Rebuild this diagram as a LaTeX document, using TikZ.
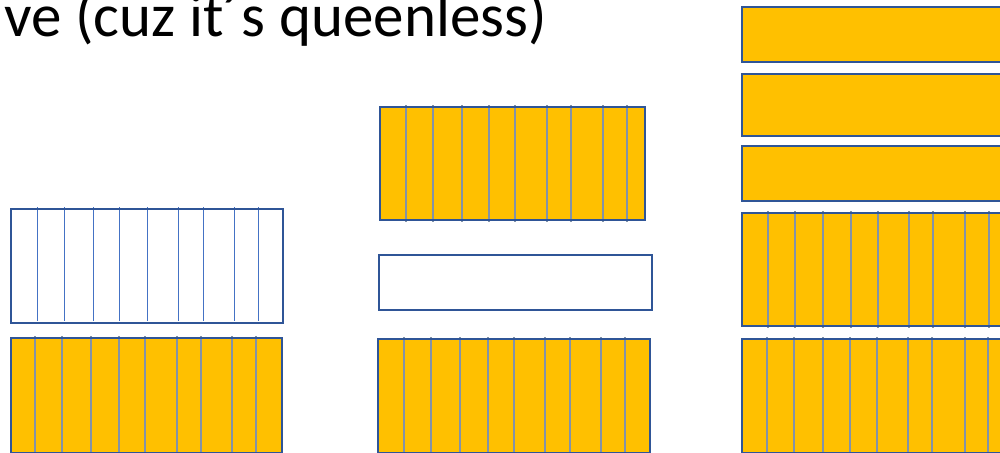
\documentclass[tikz,border=0pt]{standalone}
\usepackage{fontspec}
\setmainfont{Carlito}
\definecolor{boxblue}{HTML}{2F5597}
\definecolor{lineblue}{HTML}{4472C4}
\definecolor{linegray}{HTML}{8393A8}
\definecolor{gold}{HTML}{FFC000}

\begin{document}
\begin{tikzpicture}[x=1pt, y=-1pt,
    frame/.style={draw=boxblue, line width=2.5pt},
    stripe/.style={draw=linegray, line width=1.3pt},
    thinstripe/.style={draw=lineblue, line width=1pt}]
  \useasboundingbox (0,0) rectangle (1000,452);
  \clip (0,0) rectangle (1000,452);

  % Titel (oben abgeschnitten)
  \node[anchor=base west, inner sep=0pt, font=\fontsize{61}{72}\selectfont] (title) at (4,37) {ve (cuz it´s queenless)};

  % Links: leere Wabe
  \fill[white] (11,209) rectangle (283,323);
  \foreach \x in {37,64,93,119,147,178,203,234,258}
    \draw[thinstripe] (\x,207) -- (\x,321);
  \draw[frame] (11,209) rectangle (283,323);

  % Links: volle Wabe
  \fill[gold] (11,338) rectangle (282,452);
  \foreach \x in {35,62,91,119,145,177,201,232,256}
    \draw[stripe] (\x,336) -- (\x,452);
  \draw[frame] (11,338) rectangle (282,453);

  % Mitte: oben
  \fill[gold] (380,107) rectangle (645,220);
  \foreach \x in {406,433,462,489,515,547,571,603,627}
    \draw[stripe] (\x,105) -- (\x,222);
  \draw[frame] (380,107) rectangle (645,220);

  % Mitte: leere flache Kiste
  \draw[frame] (379,255) rectangle (652,310);

  % Mitte: unten
  \fill[gold] (378,339) rectangle (650,452);
  \foreach \x in {404,431,460,488,514,545,570,601,625}
    \draw[stripe] (\x,337) -- (\x,452);
  \draw[frame] (378,339) rectangle (650,453);

  % Rechts: drei flache Kisten
  \foreach \t/\b in {7/62, 74/136, 146/201}
    \draw[frame, fill=gold] (742,\t) rectangle (1010,\b);

  % Rechts: zwei Waben
  \fill[gold] (742,213) rectangle (1010,326);
  \foreach \x in {768,795,823,851,878,909,933,965,989}
    \draw[stripe] (\x,211) -- (\x,328);
  \draw[frame] (742,213) rectangle (1010,326);

  \fill[gold] (742,339) rectangle (1010,452);
  \foreach \x in {767,794,823,850,877,908,932,965,988}
    \draw[stripe] (\x,337) -- (\x,452);
  \draw[frame] (742,339) rectangle (1010,453);
\end{tikzpicture}
\end{document}
